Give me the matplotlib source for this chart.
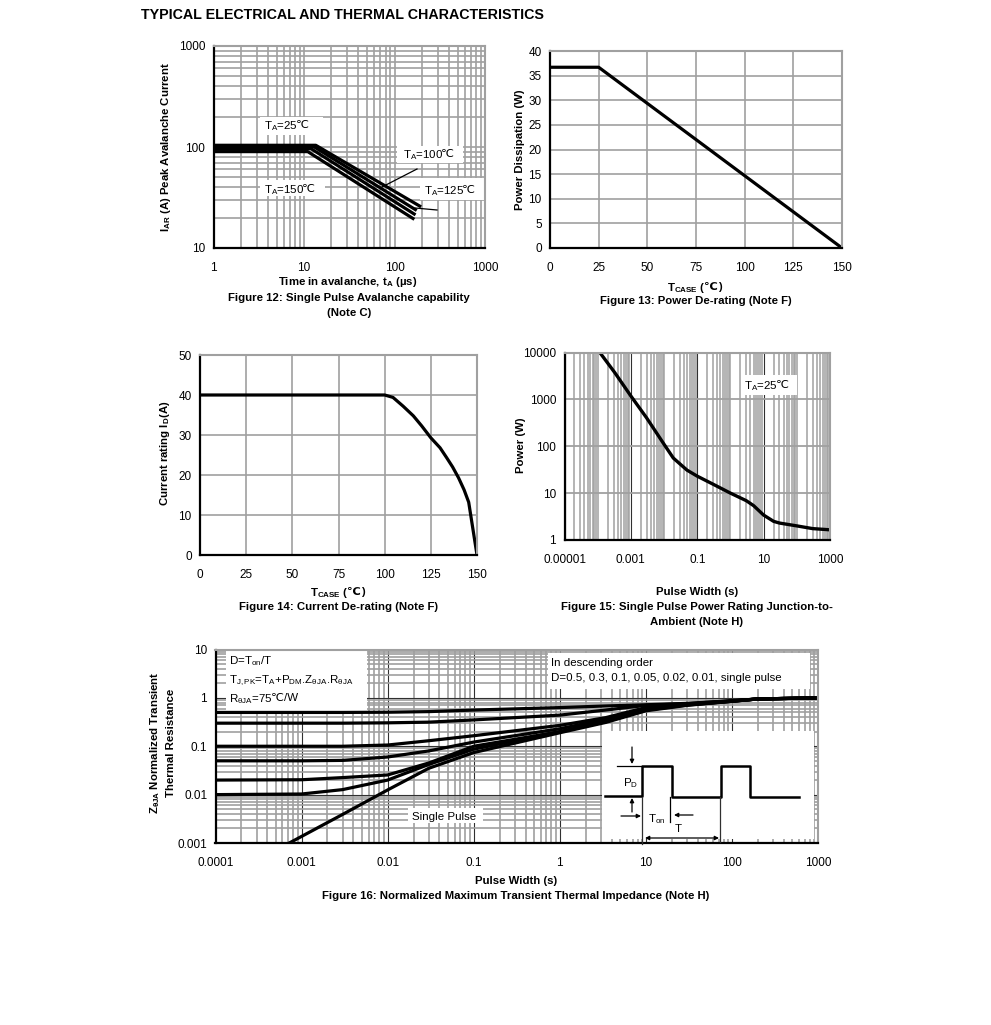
import matplotlib
matplotlib.use('Agg')
import matplotlib.pyplot as plt
from matplotlib.lines import Line2D
from matplotlib.patches import FancyArrowPatch, Rectangle
from matplotlib.ticker import FixedLocator, NullFormatter
from matplotlib.transforms import Affine2D

plt.rcParams['font.family'] = ['Liberation Sans', 'DejaVu Sans']
plt.rcParams['mathtext.fontset'] = 'custom'
plt.rcParams['mathtext.rm'] = 'Liberation Sans'
plt.rcParams['mathtext.it'] = 'Liberation Sans'
plt.rcParams['mathtext.bf'] = 'Liberation Sans:bold'
plt.rcParams['mathtext.default'] = 'regular'
plt.rcParams['mathtext.fallback'] = 'stixsans'

W, H = 991, 1025
GREY = '#a0a0a0'
DARK = '#303030'
DEG = '\u2103'
CURVE_LW = 2.3

# figure 12
aval_t_25 = [1, 13.5, 190]
aval_i_25 = [104, 104, 26]
aval_t_100 = [1, 13, 170]
aval_i_100 = [100, 100, 24]
aval_t_125 = [1, 12, 165]
aval_i_125 = [96, 96, 21.7]
aval_t_150 = [1, 11, 160]
aval_i_150 = [90, 90, 19.6]

# figure 13
case_t_13 = [0, 25, 150]
power_13 = [36.7, 36.7, 0]

# figure 14
case_t_14 = [0, 100, 104.5, 110, 115.5, 120, 125, 130, 133.6, 136.8, 140, 143, 145.5, 150]
current_14 = [40, 40, 39.4, 37.2, 34.8, 32.3, 29.3, 26.8, 24.3, 22, 19.3, 16.3, 13.2, 0]

# figure 15
pulse_15 = [1.16e-4, 3.3e-4, 1e-3, 2.95e-3, 0.01, 0.019, 0.049, 0.1, 0.3, 1, 3, 5, 10, 20, 30, 100, 300, 1000]
power_15 = [10000, 3690, 1180, 407, 110, 56, 31, 23, 15.5, 10, 6.9, 5.4, 3.4, 2.5, 2.3, 2.0, 1.75, 1.65]

# figure 16
pulse_16 = [1e-4, 1e-3, 3e-3, 0.01, 0.03, 0.1, 1, 3.4, 10, 30, 100, 200, 1000]
z_d50 = [0.5, 0.5, 0.5, 0.505, 0.52, 0.56, 0.63, 0.68, 0.72, 0.77, 0.87, 0.95, 1.0]
z_d30 = [0.3, 0.3, 0.3, 0.305, 0.315, 0.35, 0.44, 0.56, 0.70, 0.76, 0.87, 0.95, 1.0]
z_d10 = [0.1, 0.1, 0.1, 0.106, 0.13, 0.165, 0.27, 0.39, 0.63, 0.74, 0.86, 0.95, 1.0]
z_d05 = [0.05, 0.05, 0.051, 0.06, 0.08, 0.122, 0.23, 0.36, 0.6, 0.73, 0.86, 0.95, 1.0]
z_d02 = [0.02, 0.0203, 0.0225, 0.0255, 0.045, 0.1, 0.2, 0.33, 0.58, 0.72, 0.85, 0.95, 1.0]
z_d01 = [0.01, 0.0103, 0.0127, 0.02, 0.042, 0.087, 0.2, 0.32, 0.56, 0.71, 0.85, 0.95, 1.0]
pulse_single = [7.2e-4, 3e-3, 0.01, 0.03, 0.1, 1, 3.4, 10, 30, 100, 200, 1000]
z_single = [0.001, 0.0039, 0.0125, 0.035, 0.074, 0.19, 0.31, 0.54, 0.7, 0.85, 0.95, 1.0]

fig = plt.figure(figsize=(W / 100, H / 100), dpi=100)
renderer = fig.canvas.get_renderer()
# everything placed on the sheet is given in reference pixels
px = Affine2D().scale(1 / W, -1 / H).translate(0, 1) + fig.transFigure


def new_ax(left, top, right, bottom, pad=10):
    ax = fig.add_axes([left / W, 1 - bottom / H, (right - left) / W, (bottom - top) / H])
    ax.set_axisbelow(True)
    ax.spines['left'].set_linewidth(1.6)
    ax.spines['bottom'].set_linewidth(1.6)
    ax.spines['top'].set_color(GREY)
    ax.spines['right'].set_color(GREY)
    ax.spines['top'].set_linewidth(1.5)
    ax.spines['right'].set_linewidth(1.5)
    ax.tick_params(which='both', axis='x', length=0, labelsize=8.5, pad=pad)
    ax.tick_params(which='both', axis='y', length=0, labelsize=8.5, pad=6)
    return ax


def log_ticks(lo, hi):
    out = []
    for e in range(lo, hi):
        out += [m * 10.0 ** e for m in range(2, 10)]
    return out


def put(x, y, s, size, weight, ha):
    # mathtext has no degree-celsius sign, so it goes in its own text beside the rest
    parts = []
    for i, chunk in enumerate(s.split(DEG)):
        if i:
            parts.append(DEG)
        if chunk:
            parts.append(chunk)
    items = [fig.text(0, 0, p, transform=px, fontsize=size, fontweight=weight, ha='left',
                      va='center_baseline', zorder=10) for p in parts]
    widths = [t.get_window_extent(renderer).width for t in items]
    start = x - sum(widths) / 2 if ha == 'center' else x
    for t, w in zip(items, widths):
        t.set_position((start, y))
        start += w
        if len(items) > 1 and t.get_text() != DEG:
            start -= 2
        elif t.get_text() == DEG:
            start += 0.5


def label(x, y, s, size=8.2, weight='bold', rotation=0, ha='center'):
    if DEG in s:
        put(x, y, s, size, weight, ha)
        return
    fig.text(x, y, s, transform=px, fontsize=size, fontweight=weight, rotation=rotation,
             ha=ha, va='center', rotation_mode='anchor' if rotation else 'default', zorder=10)


def note(x, y, s):
    put(x, y, s, 8.25, 'normal', 'left')


def mask(ax, left, top, right, bottom):
    ax.add_patch(Rectangle((left, top), right - left, bottom - top, transform=px,
                           facecolor='white', edgecolor='none', zorder=1.5, clip_on=True))


def thin(xs, ys, color='black', lw=0.9):
    fig.add_artist(Line2D(xs, ys, transform=px, color=color, lw=lw, zorder=9))


def arrow(a, b, style='-|>'):
    fig.add_artist(FancyArrowPatch(a, b, transform=px, arrowstyle=style, mutation_scale=6,
                                   color='black', lw=0.9, shrinkA=0, shrinkB=0, zorder=9))


label(141, 15, 'TYPICAL ELECTRICAL AND THERMAL CHARACTERISTICS', size=10.3, ha='left')

# Figure 12
ax = new_ax(213.5, 46, 485, 248)
ax.set_xscale('log')
ax.set_yscale('log')
ax.set_xlim(1, 1000)
ax.set_ylim(10, 1000)
ax.xaxis.set_major_locator(FixedLocator([1, 10, 100, 1000]))
ax.yaxis.set_major_locator(FixedLocator([10, 100, 1000]))
ax.xaxis.set_minor_locator(FixedLocator(log_ticks(0, 3)))
ax.yaxis.set_minor_locator(FixedLocator(log_ticks(1, 3)))
ax.xaxis.set_minor_formatter(NullFormatter())
ax.yaxis.set_minor_formatter(NullFormatter())
ax.set_xticklabels(['1', '10', '100', '1000'])
ax.set_yticklabels(['10', '100', '1000'])
ax.grid(which='both', color=GREY, lw=1.2)
mask(ax, 260, 117, 323, 135)
mask(ax, 260, 180, 325, 196)
mask(ax, 397, 146, 463, 163)
mask(ax, 420, 178, 486, 200)
ax.plot(aval_t_25, aval_i_25, color='black', lw=CURVE_LW, zorder=2)
ax.plot(aval_t_100, aval_i_100, color='black', lw=CURVE_LW, zorder=2)
ax.plot(aval_t_125, aval_i_125, color='black', lw=CURVE_LW, zorder=2)
ax.plot(aval_t_150, aval_i_150, color='black', lw=CURVE_LW, zorder=2)
note(264, 124, 'T$_{A}$=25' + DEG)
note(264, 188, 'T$_{A}$=150' + DEG)
note(403, 153, 'T$_{A}$=100' + DEG)
note(424, 189, 'T$_{A}$=125' + DEG)
thin([382, 417], [187, 169])
thin([415, 437], [208, 210])
label(166, 147, 'I$_{AR}$ (A) Peak Avalanche Current', rotation=90)
label(348, 282, 'Time in avalanche, t$_{A}$ (µs)')
label(349, 298, 'Figure 12: Single Pulse Avalanche capability')
label(349, 313, '(Note C)')

# Figure 13
ax = new_ax(550, 51, 842, 248)
ax.set_xlim(0, 150)
ax.set_ylim(0, 40)
ax.set_xticks(range(0, 151, 25))
ax.set_yticks(range(0, 41, 5))
ax.grid(color=GREY, lw=1.2)
ax.plot(case_t_13, power_13, color='black', lw=CURVE_LW, zorder=2)
label(520, 150, 'Power Dissipation (W)', rotation=90)
label(695, 286, 'T$_{CASE}$ (' + DEG + ')')
label(696, 301, 'Figure 13: Power De-rating (Note F)')

# Figure 14
ax = new_ax(200, 355, 477, 555)
ax.set_xlim(0, 150)
ax.set_ylim(0, 50)
ax.set_xticks(range(0, 151, 25))
ax.set_yticks(range(0, 51, 10))
ax.grid(color=GREY, lw=1.2)
ax.plot(case_t_14, current_14, color='black', lw=CURVE_LW, zorder=2)
label(165, 453, 'Current rating I$_{D}$(A)', rotation=90)
label(338, 591, 'T$_{CASE}$ (' + DEG + ')')
label(339, 607, 'Figure 14: Current De-rating (Note F)')

# Figure 15
ax = new_ax(564.5, 352.5, 830, 540)
ax.set_xscale('log')
ax.set_yscale('log')
ax.set_xlim(1e-5, 1000)
ax.set_ylim(1, 10000)
ax.xaxis.set_major_locator(FixedLocator([1e-5, 1e-3, 0.1, 10, 1000]))
ax.yaxis.set_major_locator(FixedLocator([1, 10, 100, 1000, 10000]))
ax.xaxis.set_minor_locator(FixedLocator(log_ticks(-5, 3) + [1e-4, 0.01, 1, 100]))
ax.yaxis.set_minor_locator(FixedLocator([]))
ax.xaxis.set_minor_formatter(NullFormatter())
ax.set_xticklabels(['0.00001', '0.001', '0.1', '10', '1000'])
ax.set_yticklabels(['1', '10', '100', '1000', '10000'])
ax.grid(which='minor', axis='x', color=GREY, lw=1.1)
ax.grid(which='major', axis='x', color=DARK, lw=0.8)
ax.grid(which='major', axis='y', color=GREY, lw=1.3)
mask(ax, 741, 375, 797, 395)
ax.plot(pulse_15, power_15, color='black', lw=2.4, zorder=2)
note(744, 384, 'T$_{A}$=25' + DEG)
label(521, 445, 'Power (W)', rotation=90)
label(697, 592, 'Pulse Width (s)')
label(697, 607, 'Figure 15: Single Pulse Power Rating Junction-to-')
label(697, 622, 'Ambient (Note H)')

# Figure 16
ax = new_ax(215.5, 649.5, 818, 843)
ax.set_xscale('log')
ax.set_yscale('log')
ax.set_xlim(1e-4, 1000)
ax.set_ylim(0.001, 10)
ax.xaxis.set_major_locator(FixedLocator([1e-4, 1e-3, 0.01, 0.1, 1, 10, 100, 1000]))
ax.yaxis.set_major_locator(FixedLocator([0.001, 0.01, 0.1, 1, 10]))
ax.xaxis.set_minor_locator(FixedLocator(log_ticks(-4, 3)))
ax.yaxis.set_minor_locator(FixedLocator(log_ticks(-3, 1)))
ax.xaxis.set_minor_formatter(NullFormatter())
ax.yaxis.set_minor_formatter(NullFormatter())
ax.set_xticklabels(['0.0001', '0.001', '0.01', '0.1', '1', '10', '100', '1000'])
ax.set_yticklabels(['0.001', '0.01', '0.1', '1', '10'])
ax.grid(which='minor', color=GREY, lw=1.2)
ax.grid(which='major', color=DARK, lw=0.8)
mask(ax, 226, 650, 367, 711)
mask(ax, 548, 653, 810, 689)
mask(ax, 408, 808, 483, 823)
mask(ax, 602, 731, 814, 839)
for z in [z_d50, z_d30, z_d10, z_d05, z_d02, z_d01]:
    ax.plot(pulse_16, z, color='black', lw=CURVE_LW, zorder=2)
ax.plot(pulse_single, z_single, color='black', lw=CURVE_LW, zorder=2)
note(229, 659, 'D=T$_{on}$/T')
note(229, 678, 'T$_{J,PK}$=T$_{A}$+P$_{DM}$.Z$_{\\theta JA}$.R$_{\\theta JA}$')
note(229, 697, 'R$_{\\theta JA}$=75' + DEG + '/W')
note(551, 662, 'In descending order')
note(551, 677, 'D=0.5, 0.3, 0.1, 0.05, 0.02, 0.01, single pulse')
note(412, 816, 'Single Pulse')
label(155, 743, 'Z$_{\\theta JA}$ Normalized Transient', rotation=90)
label(171, 743, 'Thermal Resistance', rotation=90)
label(516, 881, 'Pulse Width (s)')
label(516, 896, 'Figure 16: Normalized Maximum Transient Thermal Impedance (Note H)')

# pulse train sketch
thin([605, 642, 642, 672, 672, 721, 721, 750, 750, 799],
     [796, 796, 766, 766, 797, 797, 766, 766, 797, 797], lw=1.8)
thin([617, 642], [766, 766])
thin([642, 642], [797, 844], color=DARK)
thin([670, 670], [797, 822])
thin([720, 720], [797, 842], color=DARK)
arrow((632, 747), (632, 764))
arrow((632, 812), (632, 798))
arrow((621, 816), (641, 816))
arrow((693, 815), (674, 815))
arrow((645, 838), (719, 838), style='<|-|>')
note(623, 781, 'P$_{D}$')
note(648, 817, 'T$_{on}$')
note(675, 828, 'T')

fig.savefig('out.png', dpi=100)
